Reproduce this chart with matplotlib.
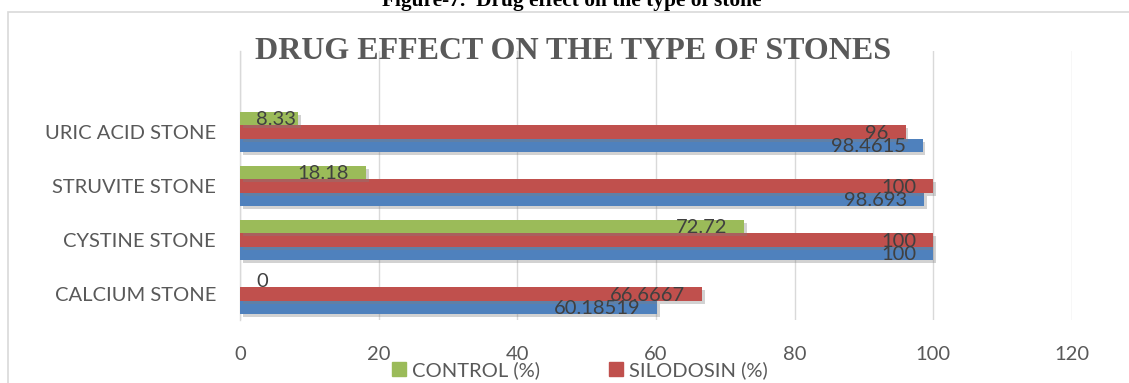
import matplotlib
matplotlib.use('Agg')
import matplotlib.pyplot as plt
import matplotlib.patheffects as pe
from matplotlib.patches import Rectangle, Patch
import numpy as np

# dados
categorias = ['CALCIUM STONE', 'CYSTINE STONE', 'STRUVITE STONE', 'URIC ACID STONE']
serie_azul = [60.18519, 100, 98.693, 98.4615]
silodosin = [66.6667, 100, 100, 96]
control = [0, 72.72, 18.18, 8.33]

titulo = 'DRUG EFFECT ON THE TYPE OF STONES'
legenda = ['CONTROL (%)', 'SILODOSIN (%)']
figura_txt = 'Figure-7.  Drug effect on the type of stone'

azul = '#4F81BD'
vermelho = '#C0504D'
verde = '#9BBB59'
cinza_txt = '#595959'
fonte = 'Lato'

W, H = 1129, 383
fig = plt.figure(figsize=(W / 100, H / 100), dpi=100, facecolor='white')

# moldura do grafico (cortada na direita e embaixo)
fig.patches.append(Rectangle((8 / W, -0.1), 1.2, 1 - 12 / H + 0.1, transform=fig.transFigure,
                             fill=False, edgecolor='#d9d9d9', linewidth=1.2))

ax = fig.add_axes([240 / W, 1 - 320 / H, (1072 - 240) / W, (320 - 51) / H])

y = np.arange(len(categorias))
h = 0.25
sombra = [pe.SimplePatchShadow(offset=(2, -2), shadow_rgbFace='#7f7f7f', alpha=0.35), pe.Normal()]

grupos = [(serie_azul, -h, azul), (silodosin, 0, vermelho), (control, h, verde)]
for valores, dy, cor in grupos:
    barras = ax.barh(y + dy, valores, height=h, color=cor, zorder=3)
    for b in barras:
        b.set_path_effects(sombra)
    for yi, v in zip(y + dy, valores):
        txt = ('%.5f' % v).rstrip('0').rstrip('.')
        if v < 10:
            ax.annotate(txt, (0, yi), xytext=(11.5, -0.8), textcoords='offset points',
                        ha='left', va='center', fontsize=14.5, family=fonte, color='#404040', zorder=5)
        else:
            ax.annotate(txt, (v, yi), xytext=(-12.2, -0.8), textcoords='offset points',
                        ha='right', va='center', fontsize=14.5, family=fonte, color='#404040', zorder=5)

ax.set_xlim(0, 120)
ax.set_ylim(-0.48, 4.5)
ax.set_xticks(range(0, 121, 20))
ax.set_yticks(y)
ax.set_yticklabels(categorias)
ax.tick_params(axis='both', length=0, labelsize=14.5, labelcolor=cinza_txt)
ax.tick_params(axis='y', pad=17.3)
ax.tick_params(axis='x', pad=19)
for lbl in ax.get_xticklabels() + ax.get_yticklabels():
    lbl.set_family(fonte)
ax.grid(axis='x', color='#d9d9d9', linewidth=1, zorder=0)
for s in ['top', 'right', 'bottom']:
    ax.spines[s].set_visible(False)
ax.spines['left'].set_color('#d9d9d9')
ax.spines['left'].set_linewidth(1)

fig.text(573.5 / W, 1 - 51.5 / H, titulo, ha='center', va='center', fontsize=23,
         fontweight='bold', family='Liberation Serif', color=cinza_txt)
fig.text(572 / W, 1 - 6 / H, figura_txt, ha='center', va='baseline', fontsize=15.4,
         fontweight='bold', family='Liberation Serif', color='black')

handles = [Patch(color=verde), Patch(color=vermelho)]
leg = fig.legend(handles, legenda, loc='center', bbox_to_anchor=(580 / W, 1 - 370 / H), ncol=2,
                 frameon=False, handlelength=0.7, handleheight=0.7, handletextpad=0.3,
                 columnspacing=3.4, borderpad=0, prop={'family': fonte, 'size': 14.5})
for t in leg.get_texts():
    t.set_color(cinza_txt)

fig.savefig('out.png', dpi=100, facecolor='white')
